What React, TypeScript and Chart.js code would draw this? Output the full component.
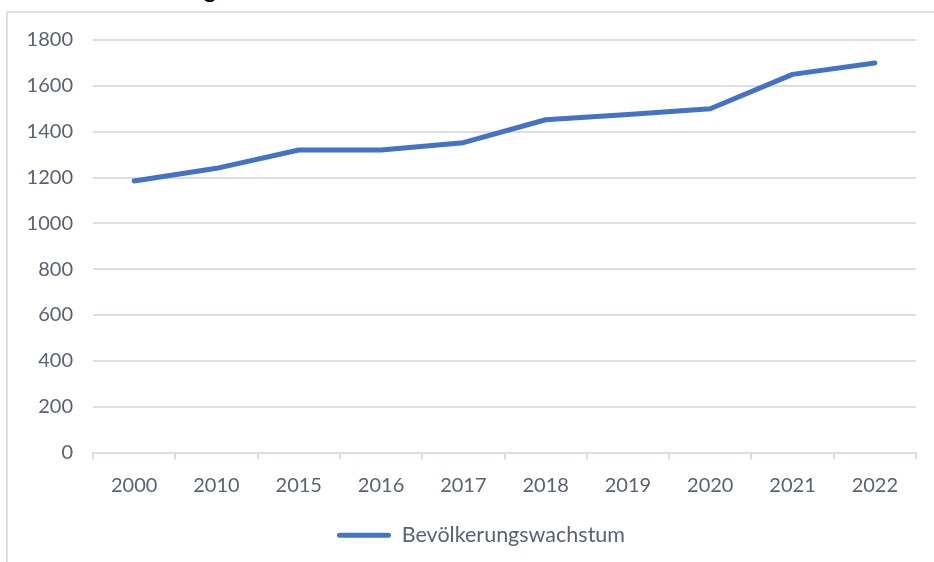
import React, { useEffect, useRef } from "react";
import { Chart, registerables } from "chart.js";

Chart.register(...registerables);

const years: string[] = ["2000", "2010", "2015", "2016", "2017", "2018", "2019", "2020", "2021", "2022"];
const population: number[] = [1185, 1240, 1320, 1320, 1352, 1452, 1475, 1500, 1650, 1700];
const seriesLabel = "Bevölkerungswachstum";
const yMin = 0;
const yMax = 1800;
const yStep = 200;

const FONT = "Lato, 'Open Sans', sans-serif";
const TEXT = "#5a6173";
const GRID = "#dadee6";
const LINE = "#4472C4";

const legendShift = {
  id: "legendShift",
  afterLayout(chart: any) {
    if (chart.legend) {
      chart.legend.left += 46;
    }
  },
};

export default function App() {
  const ref = useRef<HTMLCanvasElement | null>(null);

  useEffect(() => {
    if (!ref.current) return;
    const chart = new Chart(ref.current, {
      type: "line",
      data: {
        labels: years,
        datasets: [
          {
            label: seriesLabel,
            data: population,
            borderColor: LINE,
            backgroundColor: LINE,
            borderWidth: 5,
            pointRadius: 0,
            pointHoverRadius: 0,
            borderCapStyle: "round",
            borderJoinStyle: "round",
            tension: 0,
          },
        ],
      },
      plugins: [legendShift],
      options: {
        animation: false,
        responsive: false,
        maintainAspectRatio: false,
        layout: { padding: { top: 40, right: 18, bottom: 6, left: 0 } },
        plugins: {
          title: { display: false },
          tooltip: { enabled: false },
          legend: {
            display: true,
            position: "bottom",
            labels: {
              boxWidth: 54,
              boxHeight: 5,
              padding: 10,
              color: TEXT,
              font: { family: FONT, size: 21.5 },
              useBorderRadius: true,
              borderRadius: 2.5,
              generateLabels: (c: any) =>
                c.data.datasets.map((ds: any, i: number) => ({
                  text: ds.label,
                  fillStyle: LINE,
                  strokeStyle: LINE,
                  lineWidth: 0,
                  borderRadius: 2.5,
                  datasetIndex: i,
                  fontColor: TEXT,
                })),
            },
          },
        },
        scales: {
          x: {
            offset: true,
            grid: {
              offset: true,
              drawOnChartArea: false,
              drawTicks: true,
              tickLength: 7,
              color: GRID,
              lineWidth: 2,
            },
            border: { display: true, color: GRID, width: 2 },
            ticks: {
              color: TEXT,
              padding: 14,
              maxRotation: 0,
              font: { family: FONT, size: 20 },
            },
            afterFit: (s: any) => {
              s.height = 62;
            },
          },
          y: {
            min: yMin,
            max: yMax,
            ticks: {
              stepSize: yStep,
              color: TEXT,
              padding: 20,
              font: { family: FONT, size: 20 },
              callback: (v: any) => String(v),
            },
            grid: { color: GRID, lineWidth: 2, drawTicks: false },
            border: { display: false },
            afterFit: (s: any) => {
              s.width = 93;
            },
          },
        },
      },
    } as any);
    return () => chart.destroy();
  }, []);

  return (
    <div style={{ position: "fixed", left: 0, top: 0, width: 934, height: 562, overflow: "hidden", background: "#fff" }}>
      <div
        style={{
          position: "absolute",
          left: 202,
          top: -29,
          fontFamily: "Arial, 'Liberation Sans', sans-serif",
          fontSize: 28,
          lineHeight: "32px",
          color: "#000",
        }}
      >
        g
      </div>
      <div
        style={{
          position: "absolute",
          left: 6,
          top: 11,
          width: 1200,
          height: 1200,
          border: "2px solid #dde1e8",
        }}
      />
      <canvas ref={ref} width={934} height={562} style={{ position: "absolute", left: 0, top: 0, width: 934, height: 562 }} />
    </div>
  );
}
